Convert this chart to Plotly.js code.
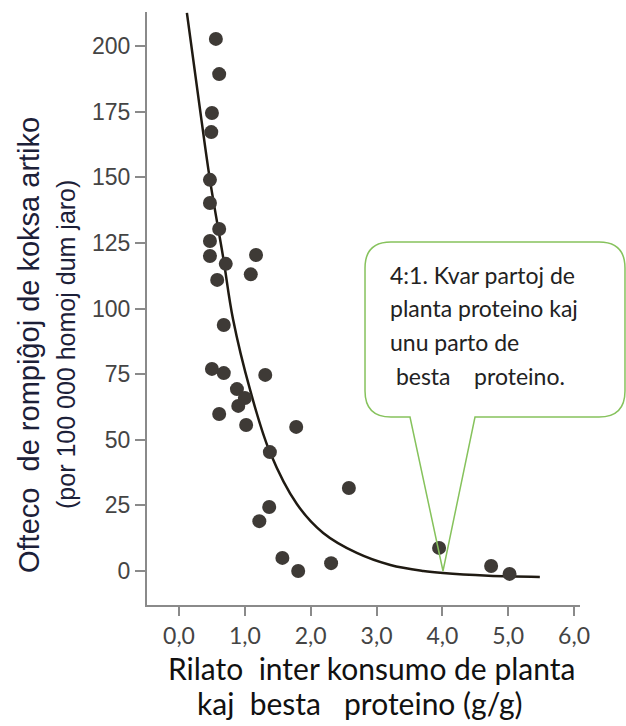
<!DOCTYPE html>
<html>
<head>
<meta charset="utf-8">
<script src="https://cdn.plot.ly/plotly-3.0.1.min.js"></script>
<style>html,body{margin:0;padding:0;background:#fff;}#chart{width:626px;height:726px;}</style>
</head>
<body>
<div id="chart"></div>
<script>
// Data
const ratioX = [0.56, 0.61, 0.50, 0.49, 0.47, 0.47, 0.61, 0.47, 0.47, 0.71, 1.17, 0.58, 1.09,
                0.68, 0.50, 0.68, 1.31, 0.88, 1.00, 0.90, 0.61, 1.02, 1.78, 1.38, 1.37, 1.22,
                1.57, 1.81, 2.31, 2.58, 3.95, 4.74, 5.02];
const fractureY = [202.7, 189.3, 174.5, 167.2, 149.0, 140.2, 130.3, 125.7, 120.0, 117.0, 120.4, 110.9, 113.0,
                   93.7, 77.0, 75.4, 74.7, 69.3, 65.9, 62.9, 59.8, 55.6, 54.9, 45.3, 24.4, 19.0,
                   5.0, 0.0, 3.0, 31.6, 8.8, 1.9, -1.1];
// Trend curve
const curveX = [0.12, 0.30, 0.47, 0.67, 0.82, 1.08, 1.38, 1.79, 2.19, 2.70, 3.21, 3.71, 4.01, 4.70, 5.48];
const curveY = [212.6, 179.4, 149.0, 119.6, 96.0, 69.0, 45.3, 25.5, 14.5, 6.9, 2.3, 0.0, -0.8, -1.8, -2.3];
const xTicks = [0, 1, 2, 3, 4, 5, 6];
const xTickText = ['0,0', '1,0', '2,0', '3,0', '4,0', '5,0', '6,0'];
const yTicks = [0, 25, 50, 75, 100, 125, 150, 175, 200];

const W = 626, H = 726;
const M = {l: 147, r: 46, t: 12, b: 121};
const PW = W - M.l - M.r, PH = H - M.t - M.b;
const px = v => (v - M.l) / PW;
const py = v => (H - M.b - v) / PH;

// callout bubble (pixel geometry converted to paper)
const bx0 = 365, bx1 = 625, by0 = 242, by1 = 417, rr = 26;
const tipX = 443, tipY = 571, pL = 410, pR = 475;
const P = (x, y) => px(x).toFixed(4) + ',' + py(y).toFixed(4);
const bubblePath =
  'M' + P(bx0 + rr, by0) +
  ' L' + P(bx1 - rr, by0) +
  ' Q' + P(bx1, by0) + ' ' + P(bx1, by0 + rr) +
  ' L' + P(bx1, by1 - rr) +
  ' Q' + P(bx1, by1) + ' ' + P(bx1 - rr, by1) +
  ' L' + P(pR, by1) +
  ' L' + P(tipX, tipY) +
  ' L' + P(pL, by1) +
  ' L' + P(bx0 + rr, by1) +
  ' Q' + P(bx0, by1) + ' ' + P(bx0, by1 - rr) +
  ' L' + P(bx0, by0 + rr) +
  ' Q' + P(bx0, by0) + ' ' + P(bx0 + rr, by0) + ' Z';

const traces = [
  {x: curveX, y: curveY, mode: 'lines', type: 'scatter',
   line: {color: '#1f1a12', width: 2.5, shape: 'spline', smoothing: 1.0},
   hoverinfo: 'skip', showlegend: false},
  {x: ratioX, y: fractureY, mode: 'markers', type: 'scatter',
   marker: {size: 14, color: '#3e3a36'}, showlegend: false}
];

const calloutFont = {family: 'Lato, "Open Sans", sans-serif', size: 23, color: '#222'};
const calloutLines = ['4:1. Kvar partoj de', 'planta proteino kaj', 'unu parto de', '\u00a0besta\u00a0\u00a0\u00a0\u00a0proteino.'];
const calloutY = [275, 308, 342, 376];

const annotations = [
  {xref: 'paper', yref: 'paper', x: px(29), y: py(345), xanchor: 'center', yanchor: 'middle',
   text: 'Ofteco\u00a0 de rompiĝoj de koksa artiko', textangle: -90, showarrow: false,
   font: {family: '"Liberation Sans", Arial, sans-serif', size: 29, color: '#1c2038'}},
  {xref: 'paper', yref: 'paper', x: px(66), y: py(345), xanchor: 'center', yanchor: 'middle',
   text: '(por 100 000 homoj dum jaro)', textangle: -90, showarrow: false,
   font: {family: '"Liberation Sans", Arial, sans-serif', size: 25, color: '#1c2038'}},
  {xref: 'paper', yref: 'paper', x: px(371), y: py(668), xanchor: 'center', yanchor: 'middle',
   text: 'Rilato\u00a0 inter konsumo de planta', showarrow: false,
   font: {family: 'Lato, "Open Sans", sans-serif', size: 30, color: '#111'}},
  {xref: 'paper', yref: 'paper', x: px(360), y: py(703), xanchor: 'center', yanchor: 'middle',
   text: 'kaj\u00a0 besta\u00a0\u00a0 proteino (g/g)', showarrow: false,
   font: {family: 'Lato, "Open Sans", sans-serif', size: 30, color: '#111'}}
];
calloutLines.forEach((t, i) => annotations.push({
  xref: 'paper', yref: 'paper', x: px(388), y: py(calloutY[i]), xanchor: 'left', yanchor: 'middle',
  text: t, showarrow: false, font: calloutFont
}));

const layout = {
  width: W, height: H,
  margin: M,
  paper_bgcolor: '#fff', plot_bgcolor: '#fff',
  separators: ',.',
  showlegend: false,
  xaxis: {
    range: [-0.486, 6.09], tickvals: xTicks, ticktext: xTickText,
    showgrid: false, zeroline: false, showline: true, linecolor: '#8a8a8a', linewidth: 2,
    ticks: 'outside', ticklen: 9, tickwidth: 2, tickcolor: '#8a8a8a',
    tickfont: {family: 'Lato, "Open Sans", sans-serif', size: 23, color: '#444'}
  },
  yaxis: {
    range: [-12.95, 212.95], tickvals: yTicks,
    showgrid: false, zeroline: false, showline: true, linecolor: '#8a8a8a', linewidth: 2,
    ticks: 'outside', ticklen: 10, tickwidth: 2, tickcolor: '#8a8a8a',
    tickfont: {family: '"Liberation Sans", Arial, sans-serif', size: 23, color: '#444'}
  },
  shapes: [
    {type: 'path', xref: 'paper', yref: 'paper', path: bubblePath,
     line: {color: '#86c25c', width: 1.5}, fillcolor: 'rgba(0,0,0,0)', layer: 'above'}
  ],
  annotations: annotations
};

Plotly.newPlot('chart', traces, layout, {displayModeBar: false, staticPlot: true});
</script>
</body>
</html>
